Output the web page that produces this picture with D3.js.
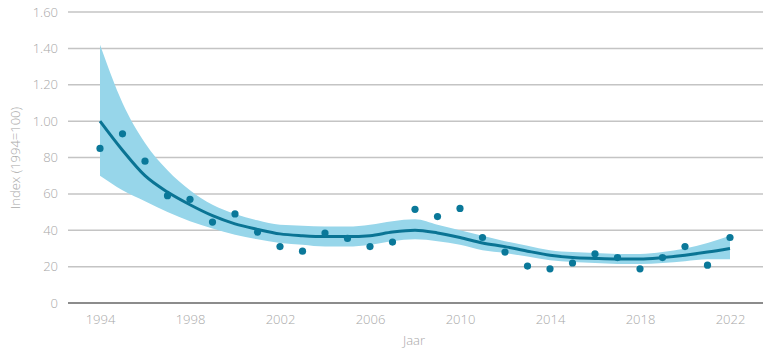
<!DOCTYPE html>
<html>
<head>
<meta charset="utf-8">
<script src="https://cdn.jsdelivr.net/npm/d3@7"></script>
<style>
  body { margin: 0; background: #fff; }
  text { font-family: "Open Sans", sans-serif; font-weight: 300; fill: #a8a8a8; }
</style>
</head>
<body>
<div id="chart"></div>
<script>
var years = [1994, 1995, 1996, 1997, 1998, 1999, 2000, 2001, 2002, 2003, 2004,
             2005, 2006, 2007, 2008, 2009, 2010, 2011, 2012, 2013, 2014, 2015,
             2016, 2017, 2018, 2019, 2020, 2021, 2022];

var observed = [85, 93, 78, 59, 57, 44.5, 49, 39, 31, 28.5, 38.5,
                35.5, 31, 33.5, 51.5, 47.5, 52, 36, 28, 20.3, 18.8, 22,
                27, 25, 18.8, 25, 31, 20.8, 36];

var trend = [100, 84, 70, 61, 54, 48, 43.5, 40.5, 38, 37, 36.5,
             36.5, 37, 39, 40, 38.5, 36, 33, 31, 28.5, 26.3, 25,
             24.5, 24.2, 24.2, 25, 26.3, 28, 30];

var upper = [142, 110, 88, 73, 62, 54, 49, 45.5, 43, 42.5, 42,
             42, 43, 45, 46, 43, 40, 37, 34, 31.5, 29, 28,
             27.5, 27, 27, 28, 30, 33, 37];

var lower = [70, 62, 56, 50, 45, 41, 37.5, 35, 33, 32, 31,
             31, 32, 34, 35, 34, 32, 29, 27.5, 25.5, 23.5, 22.5,
             22, 21.5, 21.5, 22, 23, 24, 24];

var y_ticks = [0, 20, 40, 60, 80, 100, 120, 140, 160];
var y_tick_labels = ['0', '20', '40', '60', '80', '1.00', '1.20', '1.40', '1.60'];
var x_ticks = [1994, 1998, 2002, 2006, 2010, 2014, 2018, 2022];

var width  = 770;
var height = 354;

var data = years.map(function(y, i) {
	return { year: y, obs: observed[i], trend: trend[i], hi: upper[i], lo: lower[i] };
});

var x_scale = d3.scaleLinear()
				.domain([1994, 2022])
				.range([100, 730]);

var y_scale = d3.scaleLinear()
				.domain([0, 160])
				.range([303, 12]);

var svg = d3.select('#chart')
			.append('svg')
			.attr('width', width)
			.attr('height', height);

// Grid lines
svg.append('g')
   .selectAll('line')
   .data(y_ticks)
   .enter()
   .append('line')
   .attr('x1', 68)
   .attr('x2', 763)
   .attr('y1', function(d) { return y_scale(d); })
   .attr('y2', function(d) { return y_scale(d); })
   .attr('stroke', function(d) { return d === 0 ? '#8c8c8c' : '#c4c4c4'; })
   .attr('stroke-width', function(d) { return d === 0 ? 2 : 1.5; });

// Y labels
svg.append('g')
   .selectAll('text')
   .data(y_ticks)
   .enter()
   .append('text')
   .attr('x', 58)
   .attr('y', function(d) { return y_scale(d) + 4.5; })
   .attr('text-anchor', 'end')
   .style('font-size', '13px')
   .text(function(d, i) { return y_tick_labels[i]; });

// X axis
var x_axis = d3.axisBottom(x_scale)
			.tickValues(x_ticks)
			.tickFormat(d3.format('d'))
			.tickSize(0)
			.tickPadding(12);

var gx = svg.append('g')
   .attr('transform', 'translate(0,' + y_scale(0) + ')')
   .call(x_axis);
gx.select('.domain').remove();
gx.selectAll('text')
  .style('font-size', '13px')
  .style('font-family', '"Open Sans", sans-serif')
  .attr('fill', '#a8a8a8');

// Axis titles
svg.append('text')
   .attr('transform', 'translate(20,' + 158 + ') rotate(-90)')
   .attr('text-anchor', 'middle')
   .style('font-size', '13px')
   .text('Index (1994=100)');

svg.append('text')
   .attr('x', 414)
   .attr('y', 345)
   .attr('text-anchor', 'middle')
   .style('font-size', '13px')
   .text('Jaar');

// Band
var area = d3.area()
		.curve(d3.curveMonotoneX)
		.x(function(d) { return x_scale(d.year); })
		.y0(function(d) { return y_scale(d.lo); })
		.y1(function(d) { return y_scale(d.hi); });

svg.append('path')
	.datum(data)
	.attr('fill', '#97d6ea')
	.attr('d', area);

// Trend line
var line = d3.line()
		.curve(d3.curveMonotoneX)
		.x(function(d) { return x_scale(d.year); })
		.y(function(d) { return y_scale(d.trend); });

svg.append('path')
	.datum(data)
	.attr('fill', 'none')
	.attr('stroke', '#0a7494')
	.attr('stroke-width', 3)
	.attr('d', line);

// Observed points
svg.append('g')
   .selectAll('circle')
   .data(data)
   .enter()
   .append('circle')
   .attr('cx', function(d) { return x_scale(d.year); })
   .attr('cy', function(d) { return y_scale(d.obs); })
   .attr('r', 3.6)
   .attr('fill', '#0a7899');
</script>
</body>
</html>
